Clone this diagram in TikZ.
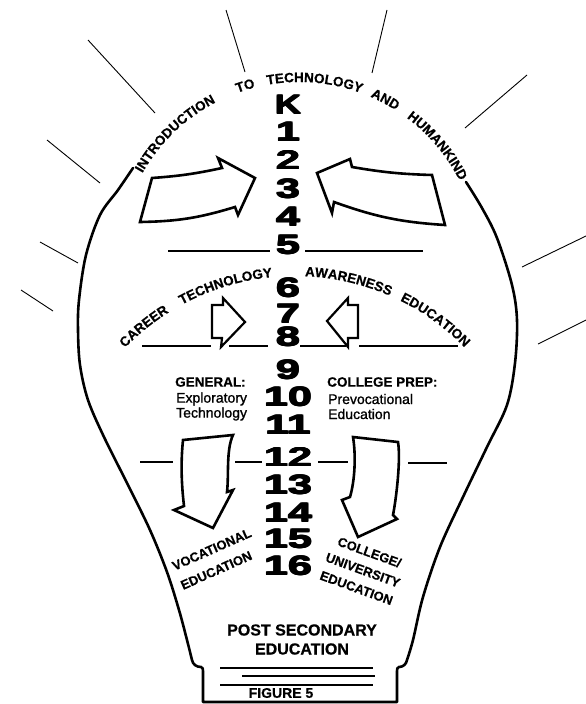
\documentclass[tikz,border=0pt]{standalone}
\usepackage{fontspec}
\usepackage{graphicx}
\usetikzlibrary{decorations.text}
\setmainfont{Liberation Sans}
\newfontfamily\boldsans[FakeBold=0.6]{Liberation Sans Bold}
\newfontfamily\medsans[FakeBold=1.2]{Liberation Sans}
\newfontfamily\digitsans{Liberation Sans Bold}
\newcommand\arcf{\boldsans\fontsize{13.5}{15}\selectfont}
\newcommand\heavy[1]{\makebox[0pt][l]{\hspace{0.8pt}#1}\makebox[0pt][l]{\raisebox{0.7pt}{#1}}\makebox[0pt][l]{\hspace{0.8pt}\raisebox{0.7pt}{#1}}\makebox[0pt][l]{\hspace{0.4pt}\raisebox{0.35pt}{#1}}#1\hspace{0.8pt}}
\begin{document}
\begin{tikzpicture}[x=1pt,y=1pt,
  outline/.style={line width=2.6pt, line join=round, line cap=round},
  ray/.style={line width=0.9pt},
  rule/.style={line width=1.5pt},
  thinrule/.style={line width=1.1pt},
  bigarrow/.style={line width=2.6pt, line join=miter, miter limit=6, fill=white},
  smallarrow/.style={line width=2.2pt, line join=miter, miter limit=6, fill=white},
  digit/.style={inner sep=0pt, font=\digitsans\fontsize{27}{27}\selectfont},
  lbl/.style={inner sep=0pt, font=\boldsans\fontsize{13.5}{13.5}\selectfont},
  sub/.style={inner sep=0pt, font=\medsans\fontsize{14}{14}\selectfont},
  tilted/.style={inner sep=0pt, font=\boldsans\fontsize{13}{21}\selectfont},
  bottomlbl/.style={inner sep=0pt, font=\boldsans\fontsize{16}{16}\selectfont},
  figlbl/.style={inner sep=0pt, font=\boldsans\fontsize{14}{14}\selectfont}
]
\useasboundingbox (0,0) rectangle (586,-704);

% rays
\draw[ray] (88,-40) -- (155,-113);
\draw[ray] (47,-140) -- (100,-183);
\draw[ray] (226,-10) -- (245,-72);
\draw[ray] (387,-10) -- (372,-73);
\draw[ray] (527,-75) -- (465,-128);
\draw[ray] (40,-242) -- (78,-263);
\draw[ray] (21,-290) -- (53,-311);
\draw[ray] (522,-267) -- (586,-236);
\draw[ray] (538,-344) -- (586,-320);

% bulb outline
\draw[outline] plot[smooth, tension=0.55] coordinates {(133,-168) (118,-190) (100,-215) (86,-255) (79,-300) (78,-330) (80,-365) (88,-400) (104,-437) (128,-485) (150,-530) (167,-572) (179,-610) (187,-640) (192,-660)}
  to[out=-80,in=180] (201,-667) to[out=0,in=90] (203,-671) -- (203,-702) -- (397,-702) -- (397,-671)
  to[out=90,in=180] (399,-667) to[out=0,in=-100] (407,-660)
  -- plot[smooth, tension=0.55] coordinates {(407,-660) (413,-640) (423,-597) (440,-547) (463,-497) (487,-447) (507,-405) (515,-363) (517,-320) (512,-285) (497,-238) (482,-208) (466,-182)};

% top arc text
\path[decorate,decoration={text along path,text={|\arcf|INTRODUCTION},text align=center}] (299,-262) ++(162:180pt) arc[start angle=162,end angle=106,radius=180pt];
\path[decorate,decoration={text along path,text={|\arcf|TO},text align=center}] (299,-262) ++(125:180pt) arc[start angle=125,end angle=89,radius=180pt];
\path[decorate,decoration={text along path,text={|\arcf|TECHNOLOGY},text align=center}] (299,-262) ++(110:180pt) arc[start angle=110,end angle=60,radius=180pt];
\path[decorate,decoration={text along path,text={|\arcf|AND},text align=center}] (299,-262) ++(80:180pt) arc[start angle=80,end angle=44,radius=180pt];
\path[decorate,decoration={text along path,text={|\arcf|HUMANKIND},text align=center}] (299,-262) ++(66:180pt) arc[start angle=66,end angle=14,radius=180pt];

% middle arc text
\path[decorate,decoration={text along path,text={|\arcf|CAREER},text align=center}] (295,-513) ++(147:237pt) arc[start angle=147,end angle=111,radius=237pt];
\path[decorate,decoration={text along path,text={|\arcf|TECHNOLOGY},text align=center}] (295,-513) ++(126:237pt) arc[start angle=126,end angle=88,radius=237pt];
\path[decorate,decoration={text along path,text={|\arcf|AWARENESS},text align=center}] (295,-513) ++(96:237pt) arc[start angle=96,end angle=58,radius=237pt];
\path[decorate,decoration={text along path,text={|\arcf|EDUCATION},text align=center}] (295,-513) ++(73:237pt) arc[start angle=73,end angle=35,radius=237pt];

% grade numbers
\node[digit] (dK) at (288,-105) {\scalebox{1.35}[1]{\heavy{K}}};
\foreach \g/\yy in {1/132,2/160,3/189,4/217,5/245,6/288,7/314,8/337,9/370,10/397,11/425,12/457,13/485,14/513,15/539,16/566}
  \node[digit] (d\g) at (288,-\yy) {\scalebox{1.6}[1]{\heavy{\g}}};

% horizontal rules
\draw[rule] (168,-251) -- (270,-251);
\draw[rule] (305,-251) -- (423,-251);
\draw[rule] (142,-346) -- (211,-346);
\draw[rule] (229,-346) -- (268,-346);
\draw[rule] (300,-346) -- (346,-346);
\draw[rule] (359,-346) -- (458,-346);
\draw[rule] (140,-462) -- (173,-462);
\draw[rule] (235,-462) -- (262,-462);
\draw[rule] (318,-462) -- (348,-462);
\draw[rule] (408,-463) -- (447,-463);

% top arrows
\draw[bigarrow] (152,-178) to[bend right=4] (222,-168) -- (218,-158) -- (255,-178) -- (238,-215) -- (235,-207) to[bend left=8] (140,-222) -- cycle;
\draw[bigarrow] (317,-173) -- (350,-159) -- (352,-167) to[bend right=4] (432,-175) -- (445,-225) to[bend left=8] (334,-202) -- (332,-213) -- cycle;

% middle arrows
\draw[smallarrow] (212,-305) -- (223,-305) -- (223,-298) -- (245,-322) -- (221,-347) -- (222,-338) -- (212,-338) -- cycle;
\draw[smallarrow] (358,-305) -- (348,-305) -- (348,-298) -- (327,-321) -- (348,-347) -- (348,-338) -- (358,-338) -- cycle;

% down arrows
\draw[bigarrow] (183,-440) -- (233,-435) .. controls (226,-450) and (229,-475) .. (227,-492) -- (233,-490) -- (213,-528) -- (174,-510) -- (184,-506) .. controls (181,-480) and (181,-460) .. (183,-440) -- cycle;
\draw[bigarrow] (353,-437) -- (398,-442) .. controls (401,-460) and (396,-500) .. (393,-515) -- (397,-519) -- (358,-537) -- (342,-500) -- (350,-497) .. controls (355,-480) and (356,-455) .. (353,-437) -- cycle;

% labels
\node[lbl, anchor=west] (gen) at (175,-382) {GENERAL:};
\node[sub, anchor=west] (expl) at (176,-399) {Exploratory};
\node[sub, anchor=west] (techn) at (176,-414) {Technology};
\node[lbl, anchor=west] (prep) at (327,-382) {COLLEGE PREP:};
\node[sub, anchor=west] (prevoc) at (328,-399) {Prevocational};
\node[sub, anchor=west] (educ) at (328,-414) {Education};

\node[tilted, align=left, rotate=24] (voc) at (216,-559) {VOCATIONAL\\EDUCATION};
\node[tilted, align=center, rotate=-20, font=\boldsans\fontsize{13}{19}\selectfont] (univ) at (363,-570) {COLLEGE/\\UNIVERSITY\\EDUCATION};

\node[bottomlbl] (post) at (302,-630) {POST SECONDARY};
\node[bottomlbl] (posted) at (302,-649) {EDUCATION};

% base lines
\draw[thinrule] (220,-668) -- (373,-668);
\draw[thinrule] (242,-676) -- (375,-676);
\draw[thinrule] (220,-685) -- (373,-685);
\node[figlbl] (fig) at (281,-693) {FIGURE 5};
\end{tikzpicture}
\end{document}
